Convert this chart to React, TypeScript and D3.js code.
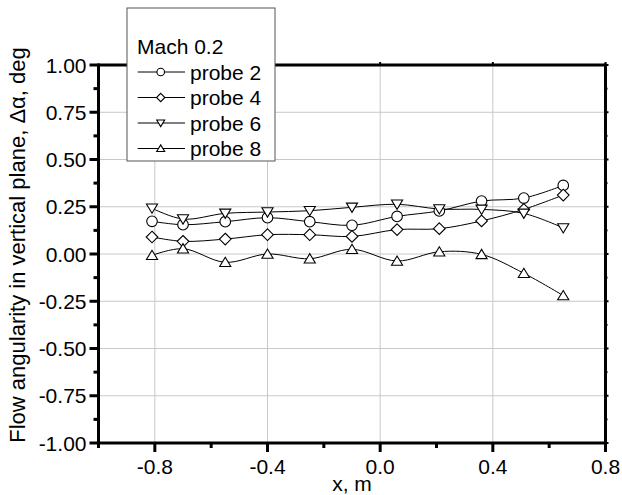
import React from "react";
import * as d3 from "d3";

const xValues = [-0.81, -0.70, -0.55, -0.40, -0.25, -0.10, 0.06, 0.21, 0.36, 0.51, 0.65];
const probe2 = [0.173, 0.155, 0.171, 0.192, 0.171, 0.152, 0.199, 0.228, 0.280, 0.296, 0.363];
const probe4 = [0.090, 0.067, 0.079, 0.102, 0.102, 0.093, 0.129, 0.134, 0.175, 0.236, 0.312];
const probe6 = [0.242, 0.185, 0.215, 0.222, 0.229, 0.247, 0.263, 0.238, 0.236, 0.215, 0.138];
const probe8 = [-0.007, 0.028, -0.044, 0.0, -0.025, 0.025, -0.037, 0.012, -0.002, -0.102, -0.22];

const seriesNames = ["probe 2", "probe 4", "probe 6", "probe 8"];
const seriesShapes = ["circle", "diamond", "down", "up"];
const legendTitle = "Mach 0.2";

const xTicks = [-0.8, -0.4, 0.0, 0.4, 0.8];
const xMinorTicks = [-1.0, -0.6, -0.2, 0.2, 0.6];
const yTicks = [-1.0, -0.75, -0.5, -0.25, 0.0, 0.25, 0.5, 0.75, 1.0];
const yMinorTicks = [-0.875, -0.625, -0.375, -0.125, 0.125, 0.375, 0.625, 0.875];

const xLabel = "x, m";
const yLabel = "Flow angularity in vertical plane, \u0394\u03b1, deg";

const FONT = "'Liberation Sans', Arial, sans-serif";

function Marker({ shape, cx, cy, s }: { shape: string; cx: number; cy: number; s: number }) {
  const common = { fill: "#fff", stroke: "#000", strokeWidth: 1.1 };
  if (shape === "circle") return <circle cx={cx} cy={cy} r={s} {...common} />;
  if (shape === "diamond")
    return <path d={`M${cx},${cy - s * 1.1}L${cx + s * 1.1},${cy}L${cx},${cy + s * 1.1}L${cx - s * 1.1},${cy}Z`} {...common} />;
  if (shape === "down")
    return <path d={`M${cx - s * 1.05},${cy - s * 0.8}L${cx + s * 1.05},${cy - s * 0.8}L${cx},${cy + s * 0.95}Z`} {...common} />;
  return <path d={`M${cx - s * 1.05},${cy + s * 0.8}L${cx + s * 1.05},${cy + s * 0.8}L${cx},${cy - s * 0.95}Z`} {...common} />;
}

export default function App() {
  const W = 622, H = 495;
  const left = 98.5, right = 605.5, top = 65, bottom = 443;
  const x = d3.scaleLinear().domain([-1.0, 0.8]).range([left, right]);
  const y = d3.scaleLinear().domain([-1.0, 1.0]).range([bottom, top]);
  const allSeries = [probe2, probe4, probe6, probe8];
  const line = d3
    .line<[number, number]>()
    .x((d) => x(d[0]))
    .y((d) => y(d[1]))
    .curve(d3.curveCatmullRom.alpha(0.5));

  const fs = 21;
  const legX = 127, legY = 8, legW = 148, legH = 153;

  return (
    <svg width={W} height={H} style={{ position: "absolute", left: 0, top: 0 }} fontFamily={FONT}>
      <rect x={0} y={0} width={W} height={H} fill="#fff" />
      {/* grid */}
      {xTicks.filter((t) => t > -1 && t < 0.8).map((t) => (
        <line key={"gx" + t} x1={x(t)} x2={x(t)} y1={top} y2={bottom} stroke="#c8c8c8" strokeWidth={1} />
      ))}
      {yTicks.filter((t) => t > -1 && t < 1).map((t) => (
        <line key={"gy" + t} x1={left} x2={right} y1={y(t)} y2={y(t)} stroke="#c8c8c8" strokeWidth={1} />
      ))}
      {/* series lines */}
      {allSeries.map((s, i) => (
        <path key={"l" + i} d={line(xValues.map((xv, j) => [xv, s[j]] as [number, number])) || ""} fill="none" stroke="#000" strokeWidth={1} />
      ))}
      {/* markers */}
      {allSeries.map((s, i) =>
        xValues.map((xv, j) => <Marker key={`m${i}-${j}`} shape={seriesShapes[i]} cx={x(xv)} cy={y(s[j])} s={5.3} />)
      )}
      {/* axes frame */}
      <line x1={left} x2={right} y1={top} y2={top} stroke="#000" strokeWidth={3} />
      <line x1={left} x2={right} y1={bottom} y2={bottom} stroke="#000" strokeWidth={3} />
      <line x1={left} x2={left} y1={top - 1.5} y2={bottom + 1.5} stroke="#000" strokeWidth={3} />
      <line x1={right} x2={right} y1={top - 1.5} y2={bottom + 1.5} stroke="#000" strokeWidth={3} />
      {/* x ticks */}
      {xTicks.map((t) => (
        <g key={"xt" + t}>
          <line x1={x(t)} x2={x(t)} y1={bottom} y2={bottom + 9} stroke="#000" strokeWidth={3} />
          <line x1={x(t)} x2={x(t)} y1={top} y2={top - 3} stroke="#000" strokeWidth={2} />
          <text x={x(t)} y={bottom + 31} textAnchor="middle" fontSize={fs}>
            {t.toFixed(1)}
          </text>
        </g>
      ))}
      {xMinorTicks.map((t) => (
        <g key={"xm" + t}>
          <line x1={x(t)} x2={x(t)} y1={bottom} y2={bottom + 5} stroke="#000" strokeWidth={3} />
        </g>
      ))}
      {/* y ticks */}
      {yTicks.map((t) => (
        <g key={"yt" + t}>
          <line x1={left} x2={left - 9} y1={y(t)} y2={y(t)} stroke="#000" strokeWidth={3} />
          <line x1={right} x2={right + 3} y1={y(t)} y2={y(t)} stroke="#000" strokeWidth={2} />
          <text x={left - 12} y={y(t) + 7.5} textAnchor="end" fontSize={fs}>
            {t.toFixed(2)}
          </text>
        </g>
      ))}
      {yMinorTicks.map((t) => (
        <g key={"ym" + t}>
          <line x1={left} x2={left - 5} y1={y(t)} y2={y(t)} stroke="#000" strokeWidth={3} />
          <line x1={right} x2={right + 2} y1={y(t)} y2={y(t)} stroke="#000" strokeWidth={2} />
        </g>
      ))}
      {/* axis titles */}
      <text x={(left + right) / 2} y={491} textAnchor="middle" fontSize={fs}>
        {xLabel}
      </text>
      <text transform={`translate(25,245) rotate(-90)`} textAnchor="middle" fontSize={22}>
        {yLabel}
      </text>
      {/* legend */}
      <rect x={legX} y={legY} width={legW} height={legH} fill="#fff" stroke="#555" strokeWidth={1} />
      <text x={137} y={54} fontSize={fs}>
        {legendTitle}
      </text>
      {seriesNames.map((n, i) => {
        const cy = 72 + i * 25.5;
        return (
          <g key={"lg" + i}>
            <line x1={137.7} x2={185} y1={cy} y2={cy} stroke="#000" strokeWidth={1} />
            <Marker shape={seriesShapes[i]} cx={160.7} cy={cy} s={3.8} />
            <text x={190} y={cy + 7.5} fontSize={fs}>
              {n}
            </text>
          </g>
        );
      })}
    </svg>
  );
}
